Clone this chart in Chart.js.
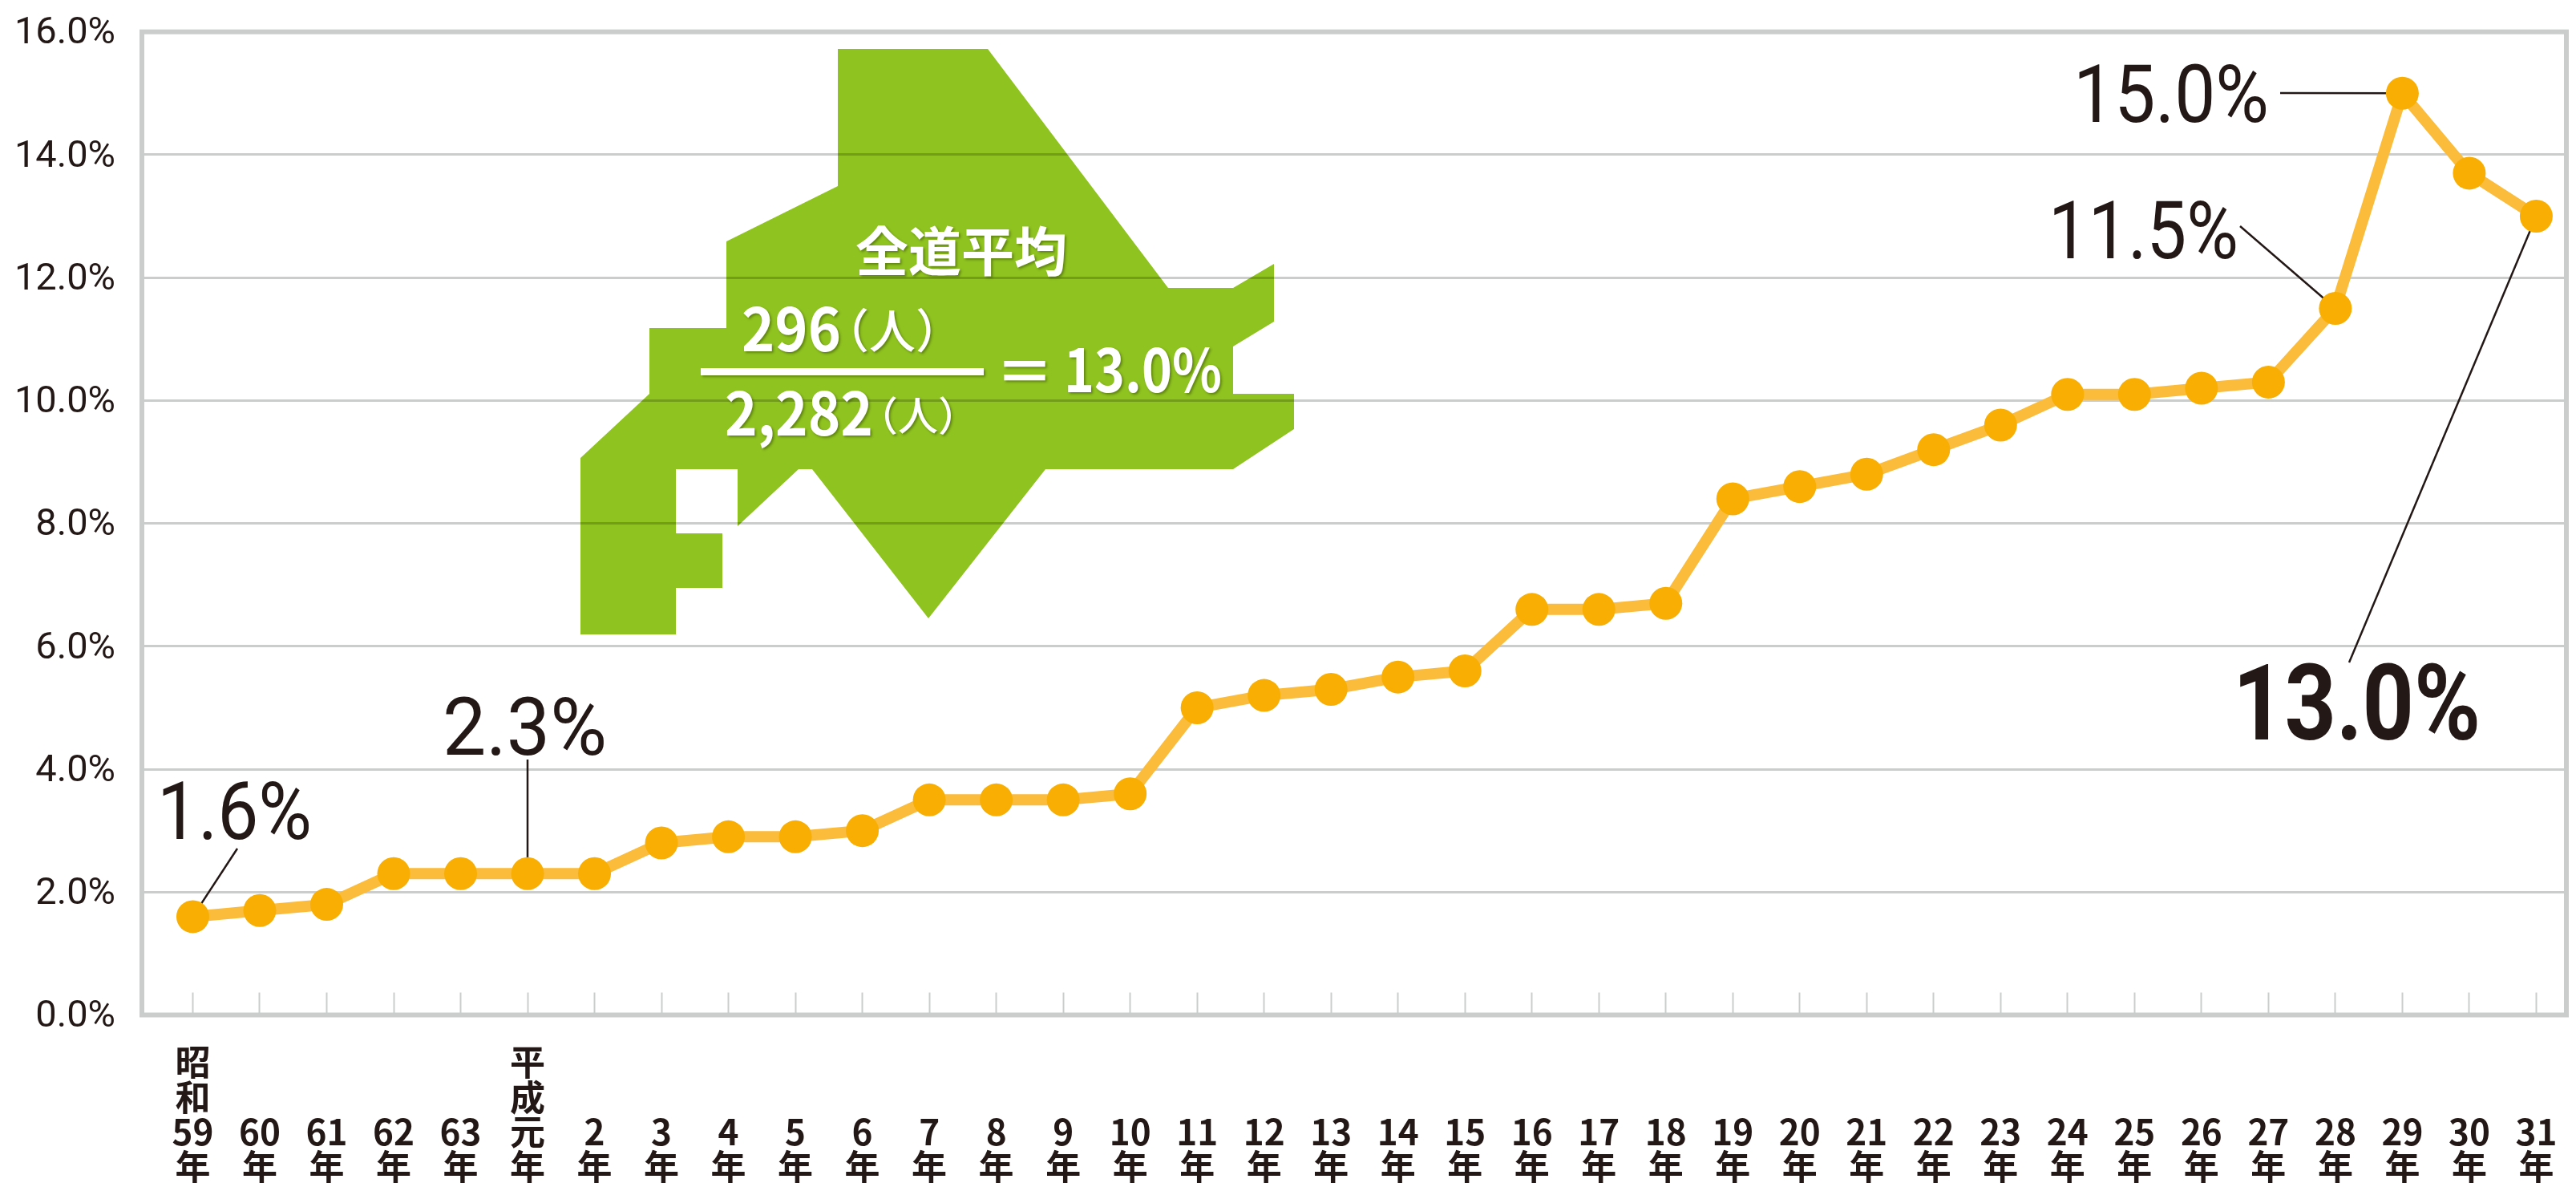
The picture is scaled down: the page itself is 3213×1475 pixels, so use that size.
<!DOCTYPE html>
<html lang="ja">
<head>
<meta charset="utf-8">
<title>全道平均</title>
<style>
html, body { margin: 0; padding: 0; background: #fff; }
canvas { display: block; }
</style>
<script src="https://cdn.jsdelivr.net/npm/chart.js@4"></script>
</head>
<body>
<canvas id="rateChart" width="3213" height="1475"></canvas>
<script>
const yearLabels = [
    "昭和59", "60", "61", "62", "63", "平成元", "2", "3", "4", "5", "6", "7",
    "8", "9", "10", "11", "12", "13", "14", "15", "16", "17", "18", "19",
    "20", "21", "22", "23", "24", "25", "26", "27", "28", "29", "30", "31"
];

const rateValues = [
    1.6, 1.7, 1.8, 2.3, 2.3, 2.3, 2.3, 2.8, 2.9, 2.9, 3.0, 3.5,
    3.5, 3.5, 3.6, 5.0, 5.2, 5.3, 5.5, 5.6, 6.6, 6.6, 6.7, 8.4,
    8.6, 8.8, 9.2, 9.6, 10.1, 10.1, 10.2, 10.3, 11.5, 15.0, 13.7, 13.0
];

const yTickValues = [0, 2, 4, 6, 8, 10, 12, 14, 16];

const INK = "#231815";
const GRID = "#cbcdcc";
const LATIN = 'Roboto, sans-serif';
const CJK = '"Noto Sans CJK JP", sans-serif';

// stack one label vertically, bottom aligned to 4 rows
function stackLabel(label) {
    const parts = label.match(/\d+|./g).concat("年");
    while (parts.length < 4) {
        parts.unshift("");
    }
    return parts;
}

// Hokkaido silhouette behind the line, canvas pixels
const islandOutline = [
    [1045, 61], [1232, 61], [1457, 359], [1538, 359], [1589, 329], [1589, 401],
    [1538, 432], [1538, 491], [1614, 491], [1614, 535], [1538, 585], [1304, 585],
    [1158, 771], [1013, 585], [996, 585], [920, 656], [920, 585], [843, 585],
    [843, 665], [901, 665], [901, 733], [843, 733], [843, 791], [724, 791],
    [724, 571], [810, 491], [810, 409], [906, 409], [906, 301], [1045, 232]
];

const callouts = [
    { index: 0, text: "1.6%", x: 196, y: 1046, w: 193, font: "100px " + LATIN, from: [296, 1058] },
    { index: 5, text: "2.3%", x: 552, y: 941, w: 205, font: "100px " + LATIN, from: [658, 947] },
    { index: 32, text: "11.5%", x: 2555, y: 322, w: 237, font: "100px " + LATIN, from: [2794, 282] },
    { index: 33, text: "15.0%", x: 2586, y: 152, w: 244, font: "100px " + LATIN, from: [2844, 116] },
    { index: 35, text: "13.0%", x: 2785, y: 922, w: 309, font: "bold 132px " + LATIN, from: [2930, 826] }
];

const islandText = [
    { text: "全道平均", x: 1199, y: 338, font: "bold 66px " + CJK, align: "center" },
    { text: "296", x: 925, y: 438, w: 124, font: "bold 74px " + CJK, align: "left" },
    { text: "（人）", x: 1113, y: 434, font: "500 58px " + CJK, align: "center" },
    { text: "2,282", x: 904, y: 543, w: 185, font: "bold 74px " + CJK, align: "left" },
    { text: "（人）", x: 1145, y: 537, font: "500 50px " + CJK, align: "center" },
    { text: "＝", x: 1278, y: 490, font: "bold 72px " + CJK, align: "center" },
    { text: "13.0%", x: 1327, y: 489, w: 197, font: "bold 74px " + CJK, align: "left" }
];

const backdrop = {
    id: "backdrop",
    beforeDatasetsDraw(chart) {
        const { ctx, chartArea, scales } = chart;

        ctx.save();

        // frame
        ctx.strokeStyle = GRID;
        ctx.lineWidth = 6;
        ctx.strokeRect(
            chartArea.left,
            chartArea.top,
            chartArea.right - chartArea.left,
            chartArea.bottom - chartArea.top
        );

        // island, grid stays visible through it
        ctx.globalCompositeOperation = "multiply";
        ctx.fillStyle = "#8fc31f";
        ctx.beginPath();
        islandOutline.forEach(([x, y], i) => {
            if (i === 0) {
                ctx.moveTo(x, y);
            } else {
                ctx.lineTo(x, y);
            }
        });
        ctx.closePath();
        ctx.fill();
        ctx.globalCompositeOperation = "source-over";

        // island text
        ctx.shadowColor = "rgba(40, 60, 0, 0.45)";
        ctx.shadowBlur = 3;
        ctx.shadowOffsetX = 2;
        ctx.shadowOffsetY = 2;
        ctx.fillStyle = "#fff";
        ctx.textBaseline = "alphabetic";
        islandText.forEach((t) => {
            ctx.font = t.font;
            ctx.textAlign = t.align;
            ctx.fillText(t.text, t.x, t.y, t.w);
        });
        ctx.fillRect(874, 459, 353, 9);
        ctx.shadowColor = "transparent";

        // callout leaders and values
        ctx.strokeStyle = INK;
        ctx.lineWidth = 2.5;
        ctx.fillStyle = INK;
        ctx.textAlign = "left";
        callouts.forEach((c) => {
            ctx.beginPath();
            ctx.moveTo(c.from[0], c.from[1]);
            ctx.lineTo(
                scales.x.getPixelForValue(c.index),
                scales.y.getPixelForValue(rateValues[c.index])
            );
            ctx.stroke();

            ctx.font = c.font;
            ctx.fillText(c.text, c.x, c.y, c.w);
        });

        ctx.restore();
    }
};

// keep the plot area where it is set, no extra room for overhanging labels
function noOverhang(scale) {
    scale.paddingLeft = 0;
    scale.paddingRight = 0;
    scale.paddingTop = 0;
    scale.paddingBottom = 0;
}

const ctx = document.getElementById("rateChart");

new Chart(ctx, {

    type: "line",

    data: {
        datasets: [
            {
                data: rateValues.map((v, i) => ({ x: i, y: v })),
                borderColor: "#fbbc3c",
                borderWidth: 14,
                tension: 0,
                pointRadius: 20.5,
                pointHoverRadius: 20.5,
                pointBackgroundColor: "#f8ae02",
                pointBorderWidth: 0,
                clip: false
            }
        ]
    },

    options: {
        responsive: false,
        animation: false,
        events: [],
        layout: {
            autoPadding: false,
            padding: { top: 39.7, right: 12, left: 0, bottom: 0 }
        },
        plugins: {
            legend: { display: false },
            tooltip: { enabled: false }
        },
        scales: {
            x: {
                type: "linear",
                min: -0.76,
                max: 35.45,
                afterFit(scale) {
                    scale.height = 209.5;
                    noOverhang(scale);
                },
                border: { display: false },
                grid: {
                    drawOnChartArea: false,
                    drawTicks: true,
                    tickLength: -28,
                    tickWidth: 2,
                    tickColor: GRID
                },
                ticks: {
                    stepSize: 1,
                    includeBounds: false,
                    autoSkip: false,
                    maxRotation: 0,
                    padding: 65,
                    color: INK,
                    font: { family: CJK, size: 44, weight: "bold", lineHeight: 0.99 },
                    callback(value) {
                        return stackLabel(yearLabels[value]);
                    }
                }
            },
            y: {
                min: yTickValues[0],
                max: yTickValues[yTickValues.length - 1],
                afterFit(scale) {
                    scale.width = 177;
                    noOverhang(scale);
                },
                border: { display: false },
                grid: {
                    color: GRID,
                    lineWidth: 3,
                    drawTicks: false
                },
                ticks: {
                    stepSize: 2,
                    padding: 33,
                    labelOffset: 3,
                    color: INK,
                    font: { family: LATIN, size: 47 },
                    callback(value) {
                        return value.toFixed(1) + "%";
                    }
                }
            }
        }
    },

    plugins: [backdrop]
});
</script>
</body>
</html>
